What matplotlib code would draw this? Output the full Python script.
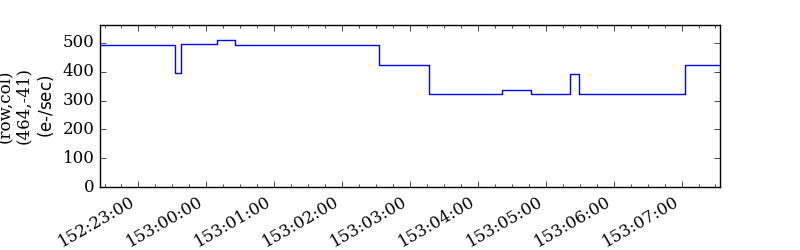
import datetime as dt
import matplotlib
matplotlib.use('Agg')
import matplotlib.pyplot as plt
import matplotlib.dates as mdates

plt.style.use('classic')
plt.rcParams['font.family'] = 'DejaVu Serif'
plt.rcParams['mathtext.fontset'] = 'dejavusans'

# day-of-year:HH:MM:SS where the level changes (steps-post)
times = ['152:22:26:00', '152:23:32:00', '152:23:38:00', '153:00:09:00',
         '153:00:25:00', '153:02:33:00', '153:03:17:00', '153:04:21:00',
         '153:04:47:00', '153:05:21:00', '153:05:29:00', '153:07:03:00',
         '153:07:34:00']
rate = [494, 396, 497, 511, 494, 424, 321, 335, 321, 393, 321, 422, 422]

def to_dt(s):
    d, h, m, sec = [int(v) for v in s.split(':')]
    return dt.datetime(2015, 1, 1) + dt.timedelta(days=d - 1, hours=h, minutes=m, seconds=sec)

t = [to_dt(s) for s in times]

fig = plt.figure(figsize=(8, 2.5), dpi=100)
ax = fig.add_axes([0.125, 0.252, 0.775, 0.648])
ax.step(t, rate, where='post', color='b')
ax.set_xlim(t[0], t[-1])
ax.set_ylim(0, 1.1 * max(rate))
ax.set_yticks([0, 100, 200, 300, 400, 500])

ax.xaxis.set_major_locator(mdates.HourLocator())
ax.xaxis.set_minor_locator(mdates.MinuteLocator(byminute=[15, 30, 45]))
ax.xaxis.set_major_formatter(mdates.DateFormatter('%j:%H:%M'))
for lab in ax.get_xticklabels():
    lab.set_rotation(30)
    lab.set_ha('right')

ax.set_ylabel('(row,col)\n(464,-41)\n$\\mathrm{(e\\text{-}/sec)}$')

fig.savefig('out.png', dpi=100)
